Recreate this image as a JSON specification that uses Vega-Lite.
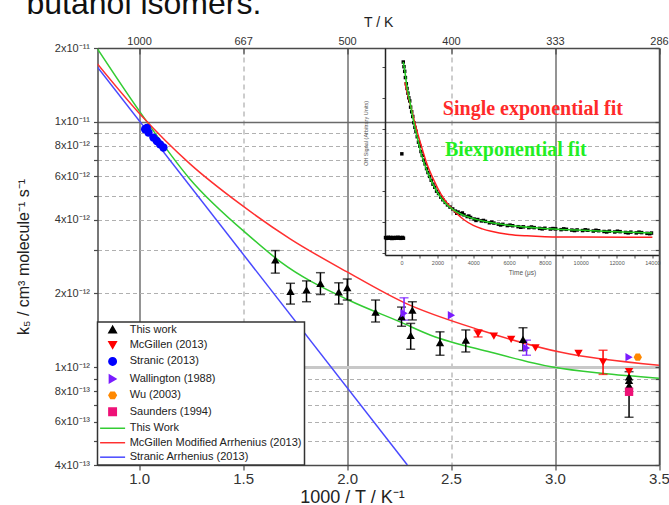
{
"$schema": "https://vega.github.io/schema/vega-lite/v6.json",
"width": 561.5,
"height": 417,
"autosize": {"type": "none"},
"padding": {"left": 97.5, "top": 48, "right": 10, "bottom": 40},
"background": "white",
"title": {"text": "butanol isomers.", "anchor": "start", "frame": "group", "fontSize": 32, "fontWeight": "normal", "font": "Liberation Sans", "color": "#111", "dx": -71, "dy": 31, "offset": 0, "baseline": "alphabetic"},
"config": {
  "font": "Liberation Sans",
  "view": {"stroke": null},
  "axis": {"labelColor": "#333", "titleColor": "#222", "titleFontWeight": "normal", "domainColor": "#4a4a4a", "domainWidth": 1.5, "tickColor": "#4a4a4a", "tickWidth": 1.2, "labelFlush": false, "labelOverlap": false, "grid": false},
  "legend": {"orient": "bottom-left", "offset": 0, "padding": 2, "strokeColor": "#333", "strokeWidth": 1.5, "fillColor": "white", "labelFontSize": 11, "labelColor": "#222", "labelLimit": 260, "symbolSize": 60, "symbolOffset": 7.6, "labelOffset": 11.6, "rowPadding": 2.46, "symbolStrokeWidth": 1.5}
},
"datasets": {
  "pts": [
    {"series": "This work", "x": 1.655, "y": 2.74e-12, "lo": 2.42e-12, "hi": 2.99e-12},
    {"series": "This work", "x": 1.728, "y": 2.04e-12, "lo": 1.81e-12, "hi": 2.20e-12},
    {"series": "This work", "x": 1.805, "y": 2.07e-12, "lo": 1.85e-12, "hi": 2.25e-12},
    {"series": "This work", "x": 1.872, "y": 2.20e-12, "lo": 1.98e-12, "hi": 2.43e-12},
    {"series": "This work", "x": 1.960, "y": 2.03e-12, "lo": 1.81e-12, "hi": 2.21e-12},
    {"series": "This work", "x": 2.001, "y": 2.11e-12, "lo": 1.88e-12, "hi": 2.29e-12},
    {"series": "This work", "x": 2.137, "y": 1.68e-12, "lo": 1.53e-12, "hi": 1.88e-12},
    {"series": "This work", "x": 2.262, "y": 1.61e-12, "lo": 1.47e-12, "hi": 1.76e-12},
    {"series": "This work", "x": 2.314, "y": 1.71e-12, "lo": 1.56e-12, "hi": 1.85e-12},
    {"series": "This work", "x": 2.306, "y": 1.35e-12, "lo": 1.185e-12, "hi": 1.51e-12},
    {"series": "This work", "x": 2.447, "y": 1.26e-12, "lo": 1.12e-12, "hi": 1.395e-12},
    {"series": "This work", "x": 2.571, "y": 1.29e-12, "lo": 1.155e-12, "hi": 1.42e-12},
    {"series": "This work", "x": 2.846, "y": 1.30e-12, "lo": 1.17e-12, "hi": 1.45e-12},
    {"series": "This work", "x": 3.356, "y": 8.85e-13, "lo": 6.26e-13, "hi": 9.6e-13},
    {"series": "This work", "x": 3.356, "y": 8.45e-13},
    {"series": "This work", "x": 3.356, "y": 9.15e-13},
    {"series": "McGillen (2013)", "x": 2.630, "y": 1.37e-12, "lo": 1.33e-12, "hi": 1.42e-12},
    {"series": "McGillen (2013)", "x": 2.706, "y": 1.34e-12},
    {"series": "McGillen (2013)", "x": 2.789, "y": 1.30e-12},
    {"series": "McGillen (2013)", "x": 2.906, "y": 1.20e-12},
    {"series": "McGillen (2013)", "x": 3.113, "y": 1.14e-12},
    {"series": "McGillen (2013)", "x": 3.231, "y": 1.05e-12, "lo": 9.36e-13, "hi": 1.174e-12},
    {"series": "McGillen (2013)", "x": 3.356, "y": 9.6e-13},
    {"series": "Stranic (2013)", "x": 1.029, "y": 9.33e-12},
    {"series": "Stranic (2013)", "x": 1.037, "y": 9.45e-12},
    {"series": "Stranic (2013)", "x": 1.045, "y": 9.05e-12},
    {"series": "Stranic (2013)", "x": 1.069, "y": 8.63e-12},
    {"series": "Stranic (2013)", "x": 1.085, "y": 8.36e-12},
    {"series": "Stranic (2013)", "x": 1.101, "y": 8.10e-12},
    {"series": "Stranic (2013)", "x": 1.117, "y": 7.86e-12},
    {"series": "Wallington (1988)", "x": 2.274, "y": 1.66e-12, "lo": 1.557e-12, "hi": 1.92e-12},
    {"series": "Wallington (1988)", "x": 2.502, "y": 1.63e-12},
    {"series": "Wallington (1988)", "x": 2.863, "y": 1.20e-12, "lo": 1.12e-12, "hi": 1.29e-12},
    {"series": "Wallington (1988)", "x": 3.356, "y": 1.10e-12},
    {"series": "Wu (2003)", "x": 3.398, "y": 1.10e-12},
    {"series": "Saunders (1994)", "x": 3.356, "y": 7.95e-13}
  ],
  "fits": [
    {"series": "This Work", "x": 0.8, "y": 1.984e-11},
    {"series": "This Work", "x": 1.005, "y": 1.096e-11},
    {"series": "This Work", "x": 1.246, "y": 5.83e-12},
    {"series": "This Work", "x": 1.535, "y": 3.40e-12},
    {"series": "This Work", "x": 1.680, "y": 2.69e-12},
    {"series": "This Work", "x": 2.007, "y": 1.88e-12},
    {"series": "This Work", "x": 2.258, "y": 1.528e-12},
    {"series": "This Work", "x": 2.402, "y": 1.352e-12},
    {"series": "This Work", "x": 2.692, "y": 1.152e-12},
    {"series": "This Work", "x": 2.995, "y": 1.0e-12},
    {"series": "This Work", "x": 3.222, "y": 9.45e-13},
    {"series": "This Work", "x": 3.5, "y": 9.03e-13},
    {"series": "McGillen Modified Arrhenius (2013)", "x": 0.8, "y": 1.722e-11},
    {"series": "McGillen Modified Arrhenius (2013)", "x": 1.005, "y": 1.074e-11},
    {"series": "McGillen Modified Arrhenius (2013)", "x": 1.246, "y": 6.73e-12},
    {"series": "McGillen Modified Arrhenius (2013)", "x": 1.487, "y": 4.62e-12},
    {"series": "McGillen Modified Arrhenius (2013)", "x": 1.728, "y": 3.33e-12},
    {"series": "McGillen Modified Arrhenius (2013)", "x": 2.007, "y": 2.43e-12},
    {"series": "McGillen Modified Arrhenius (2013)", "x": 2.272, "y": 1.84e-12},
    {"series": "McGillen Modified Arrhenius (2013)", "x": 2.643, "y": 1.416e-12},
    {"series": "McGillen Modified Arrhenius (2013)", "x": 3.029, "y": 1.151e-12},
    {"series": "McGillen Modified Arrhenius (2013)", "x": 3.5, "y": 1.019e-12},
    {"series": "Stranic Arrhenius (2013)", "x": 0.8, "y": 1.67e-11},
    {"series": "Stranic Arrhenius (2013)", "x": 2.29, "y": 4.0e-13}
  ],
  "decay": [
    {"t": -900, "s": 0.002}, {"t": -850, "s": -0.003}, {"t": -800, "s": 0.001}, {"t": -750, "s": 0.004},
    {"t": -700, "s": -0.002}, {"t": -650, "s": 0.0}, {"t": -600, "s": 0.003}, {"t": -550, "s": -0.004},
    {"t": -500, "s": 0.002}, {"t": -450, "s": 0.0}, {"t": -400, "s": -0.003}, {"t": -350, "s": 0.003},
    {"t": -300, "s": 0.001}, {"t": -250, "s": -0.002}, {"t": -200, "s": 0.004}, {"t": -150, "s": -0.001},
    {"t": -100, "s": 0.002}, {"t": -50, "s": -0.003}, {"t": 0, "s": 0.001}, {"t": 50, "s": 0.003},
    {"t": 100, "s": -0.002}, {"t": 10, "s": 0.54},
    {"t": 90, "s": 1.13}, {"t": 130, "s": 1.10}, {"t": 170, "s": 1.07}, {"t": 210, "s": 1.03},
    {"t": 260, "s": 0.99}, {"t": 300, "s": 0.96}, {"t": 350, "s": 0.93}, {"t": 400, "s": 0.90},
    {"t": 450, "s": 0.88}, {"t": 500, "s": 0.84}, {"t": 560, "s": 0.81}, {"t": 620, "s": 0.78},
    {"t": 680, "s": 0.74}, {"t": 740, "s": 0.71}, {"t": 800, "s": 0.685}, {"t": 870, "s": 0.65},
    {"t": 940, "s": 0.615}, {"t": 1010, "s": 0.59}, {"t": 1080, "s": 0.555}, {"t": 1150, "s": 0.53},
    {"t": 1230, "s": 0.50}, {"t": 1310, "s": 0.475}, {"t": 1390, "s": 0.445}, {"t": 1470, "s": 0.42},
    {"t": 1560, "s": 0.395}, {"t": 1650, "s": 0.37}, {"t": 1750, "s": 0.345}, {"t": 1850, "s": 0.325},
    {"t": 1950, "s": 0.30}, {"t": 2060, "s": 0.285}, {"t": 2180, "s": 0.262}, {"t": 2300, "s": 0.245},
    {"t": 2430, "s": 0.228}, {"t": 2560, "s": 0.212}, {"t": 2700, "s": 0.198}, {"t": 2850, "s": 0.186},
    {"t": 3000, "s": 0.172}, {"t": 3150, "s": 0.166}, {"t": 3300, "s": 0.155}, {"t": 3480, "s": 0.148},
    {"t": 3660, "s": 0.137}, {"t": 3850, "s": 0.131}, {"t": 4050, "s": 0.121}, {"t": 4250, "s": 0.118},
    {"t": 4450, "s": 0.109}, {"t": 4680, "s": 0.106}, {"t": 4900, "s": 0.097}, {"t": 5150, "s": 0.095},
    {"t": 5400, "s": 0.088}, {"t": 5650, "s": 0.087}, {"t": 5900, "s": 0.079}, {"t": 6200, "s": 0.078},
    {"t": 6500, "s": 0.072}, {"t": 6800, "s": 0.071}, {"t": 7100, "s": 0.066}, {"t": 7400, "s": 0.066},
    {"t": 7700, "s": 0.061}, {"t": 8000, "s": 0.062}, {"t": 8300, "s": 0.057}, {"t": 8600, "s": 0.058},
    {"t": 8900, "s": 0.053}, {"t": 9200, "s": 0.055}, {"t": 9500, "s": 0.050}, {"t": 9800, "s": 0.051},
    {"t": 10100, "s": 0.047}, {"t": 10400, "s": 0.049}, {"t": 10700, "s": 0.044}, {"t": 11000, "s": 0.046},
    {"t": 11300, "s": 0.041}, {"t": 11600, "s": 0.043}, {"t": 11900, "s": 0.038}, {"t": 12200, "s": 0.040},
    {"t": 12500, "s": 0.035}, {"t": 12800, "s": 0.037}, {"t": 13100, "s": 0.032}, {"t": 13400, "s": 0.034},
    {"t": 13700, "s": 0.029}, {"t": 13950, "s": 0.031},
    {"t": 3075, "s": 0.158}, {"t": 3390, "s": 0.16}, {"t": 3750, "s": 0.14}, {"t": 4150, "s": 0.112},
    {"t": 4565, "s": 0.112}, {"t": 5025, "s": 0.101}, {"t": 5525, "s": 0.083}, {"t": 6050, "s": 0.082},
    {"t": 6650, "s": 0.068}, {"t": 7250, "s": 0.07}, {"t": 7850, "s": 0.058}, {"t": 8450, "s": 0.06},
    {"t": 9050, "s": 0.058}, {"t": 9650, "s": 0.047}, {"t": 10250, "s": 0.052}, {"t": 10850, "s": 0.049},
    {"t": 11450, "s": 0.038}, {"t": 12050, "s": 0.043}, {"t": 12650, "s": 0.032}, {"t": 13250, "s": 0.037},
    {"t": 13850, "s": 0.027}
  ],
  "ifits": [
    {"fit": "single", "t": 180, "s": 1.0}, {"fit": "single", "t": 300, "s": 0.94}, {"fit": "single", "t": 500, "s": 0.85},
    {"fit": "single", "t": 800, "s": 0.71}, {"fit": "single", "t": 1100, "s": 0.59}, {"fit": "single", "t": 1400, "s": 0.48},
    {"fit": "single", "t": 1800, "s": 0.37}, {"fit": "single", "t": 2200, "s": 0.28}, {"fit": "single", "t": 2600, "s": 0.215},
    {"fit": "single", "t": 3000, "s": 0.165}, {"fit": "single", "t": 3500, "s": 0.115}, {"fit": "single", "t": 4000, "s": 0.08},
    {"fit": "single", "t": 4500, "s": 0.058}, {"fit": "single", "t": 5000, "s": 0.042}, {"fit": "single", "t": 6000, "s": 0.022},
    {"fit": "single", "t": 7000, "s": 0.013}, {"fit": "single", "t": 8000, "s": 0.008}, {"fit": "single", "t": 10000, "s": 0.005},
    {"fit": "single", "t": 14000, "s": 0.004},
    {"fit": "bi", "t": 90, "s": 1.13}, {"fit": "bi", "t": 180, "s": 1.07}, {"fit": "bi", "t": 280, "s": 0.98},
    {"fit": "bi", "t": 460, "s": 0.875}, {"fit": "bi", "t": 650, "s": 0.757}, {"fit": "bi", "t": 840, "s": 0.66},
    {"fit": "bi", "t": 1120, "s": 0.53}, {"fit": "bi", "t": 1400, "s": 0.435}, {"fit": "bi", "t": 1770, "s": 0.339},
    {"fit": "bi", "t": 2140, "s": 0.266}, {"fit": "bi", "t": 2510, "s": 0.215}, {"fit": "bi", "t": 3070, "s": 0.167},
    {"fit": "bi", "t": 3820, "s": 0.13}, {"fit": "bi", "t": 4750, "s": 0.103}, {"fit": "bi", "t": 6050, "s": 0.079},
    {"fit": "bi", "t": 7900, "s": 0.061}, {"fit": "bi", "t": 9800, "s": 0.05}, {"fit": "bi", "t": 11600, "s": 0.041},
    {"fit": "bi", "t": 14000, "s": 0.031}
  ],
  "notes": [
    {"fit": "single", "t": 2300, "s": 0.83, "label": "Single exponential fit"},
    {"fit": "bi", "t": 2420, "s": 0.565, "label": "Biexponential fit"}
  ]
},
"layer": [
  {
    "layer": [
      {
        "data": {"name": "fits"},
        "mark": {"type": "line", "strokeWidth": 1.5, "clip": true, "interpolate": "monotone"},
        "encoding": {
          "x": {"field": "x", "type": "quantitative", "title": "1000 / T / K⁻¹", "scale": {"domain": [0.8, 3.5], "nice": false, "zero": false},
            "axis": {"orient": "bottom", "values": [1, 1.5, 2, 2.5, 3, 3.5], "format": ".1f", "labelFontSize": 15, "labelPadding": 1, "tickSize": 5,
              "titleFontSize": 18, "titleX": 254.5, "titleY": 37, "titleBaseline": "alphabetic", "titleAlign": "center",
              "grid": true,
              "gridColor": {"condition": {"test": "datum.value === 1.5 || datum.value === 2.5", "value": "#9a9a9a"}, "value": "#707070"},
              "gridDash": {"condition": {"test": "datum.value === 1.5 || datum.value === 2.5", "value": [5, 4]}, "value": []},
              "gridWidth": {"condition": {"test": "datum.value === 1.5 || datum.value === 2.5", "value": 1}, "value": 1.5}}},
          "y": {"field": "y", "type": "quantitative", "title": "k₅ / cm³ molecule⁻¹ s⁻¹", "scale": {"type": "log", "domain": [4e-13, 2e-11], "nice": false},
            "axis": {"orient": "left",
              "values": [2e-11, 1e-11, 9e-12, 8e-12, 7e-12, 6e-12, 5e-12, 4e-12, 3e-12, 2e-12, 1e-12, 9e-13, 8e-13, 7e-13, 6e-13, 5e-13, 4e-13],
              "labelExpr": "datum.value > 1.5e-11 ? '2x10⁻¹¹' : abs(datum.value-1e-11) < 1e-13 ? '1x10⁻¹¹' : abs(datum.value-8e-12) < 1e-13 ? '8x10⁻¹²' : abs(datum.value-6e-12) < 1e-13 ? '6x10⁻¹²' : abs(datum.value-4e-12) < 1e-13 ? '4x10⁻¹²' : abs(datum.value-2e-12) < 1e-13 ? '2x10⁻¹²' : abs(datum.value-1e-12) < 1e-14 ? '1x10⁻¹²' : abs(datum.value-8e-13) < 1e-14 ? '8x10⁻¹³' : abs(datum.value-6e-13) < 1e-14 ? '6x10⁻¹³' : abs(datum.value-4e-13) < 1e-14 ? '4x10⁻¹³' : ''",
              "labelFontSize": 11, "labelPadding": 4, "tickSize": 4,
              "titleFontSize": 16, "titleX": -74, "titleY": 208.5, "titleAlign": "center", "titleBaseline": "middle", "titleAngle": -90,
              "grid": true,
              "gridColor": {"condition": [{"test": "abs(datum.value-1e-11) < 1e-13", "value": "#6a6a6a"}, {"test": "abs(datum.value-1e-12) < 1e-14", "value": "#c8c8c8"}], "value": "#b0b0b0"},
              "gridWidth": {"condition": [{"test": "abs(datum.value-1e-11) < 1e-13", "value": 1.5}, {"test": "abs(datum.value-1e-12) < 1e-14", "value": 3}], "value": 1},
              "gridDash": {"condition": {"test": "abs(datum.value-1e-11) < 1e-13 || abs(datum.value-1e-12) < 1e-14", "value": []}, "value": [4, 3]}}},
          "color": {"field": "series", "type": "nominal",
            "legend": {"title": null,
              "encode": {"symbols": {"update": {
                "stroke": {"scale": "color", "field": "value"},
                "strokeWidth": {"value": 1.5},
                "fill": {"signal": "indexof(['This Work','McGillen Modified Arrhenius (2013)','Stranic Arrhenius (2013)'], datum.value) >= 0 ? 'transparent' : scale('color', datum.value)"},
                "size": {"signal": "indexof(['This Work','McGillen Modified Arrhenius (2013)','Stranic Arrhenius (2013)'], datum.value) >= 0 ? 625 : 55"}
              }}}}}
        }
      },
      {
        "data": {"name": "pts"},
        "transform": [{"filter": "isValid(datum.lo)"}],
        "mark": {"type": "errorbar", "ticks": {"size": 9}, "thickness": 1.5},
        "encoding": {
          "x": {"field": "x", "type": "quantitative", "title": "1000 / T / K⁻¹", "scale": {"domain": [0.8, 3.5], "nice": false, "zero": false}},
          "y": {"field": "lo", "type": "quantitative", "title": "k₅ / cm³ molecule⁻¹ s⁻¹", "scale": {"type": "log", "domain": [4e-13, 2e-11], "nice": false}},
          "y2": {"field": "hi"},
          "color": {"field": "series", "type": "nominal",
            "legend": {"title": null,
              "encode": {"symbols": {"update": {
                "stroke": {"scale": "color", "field": "value"},
                "strokeWidth": {"value": 1.5},
                "fill": {"signal": "indexof(['This Work','McGillen Modified Arrhenius (2013)','Stranic Arrhenius (2013)'], datum.value) >= 0 ? 'transparent' : scale('color', datum.value)"},
                "size": {"signal": "indexof(['This Work','McGillen Modified Arrhenius (2013)','Stranic Arrhenius (2013)'], datum.value) >= 0 ? 625 : 55"}
              }}}}}
        }
      },
      {
        "data": {"name": "pts"},
        "mark": {"type": "point", "filled": true, "opacity": 1, "size": 70},
        "encoding": {
          "x": {"field": "x", "type": "quantitative", "title": "1000 / T / K⁻¹", "scale": {"domain": [0.8, 3.5], "nice": false, "zero": false}},
          "y": {"field": "y", "type": "quantitative", "title": "k₅ / cm³ molecule⁻¹ s⁻¹", "scale": {"type": "log", "domain": [4e-13, 2e-11], "nice": false}},
          "color": {"field": "series", "type": "nominal",
            "scale": {"domain": ["This work", "McGillen (2013)", "Stranic (2013)", "Wallington (1988)", "Wu (2003)", "Saunders (1994)", "This Work", "McGillen Modified Arrhenius (2013)", "Stranic Arrhenius (2013)"],
                      "range": ["#000000", "#ff0000", "#0000ff", "#7a1cff", "#ff8800", "#ee1177", "#33cc33", "#ff3030", "#4848ff"]},
            "legend": {"title": null,
              "encode": {"symbols": {"update": {
                "stroke": {"scale": "color", "field": "value"},
                "strokeWidth": {"value": 1.5},
                "fill": {"signal": "indexof(['This Work','McGillen Modified Arrhenius (2013)','Stranic Arrhenius (2013)'], datum.value) >= 0 ? 'transparent' : scale('color', datum.value)"},
                "size": {"signal": "indexof(['This Work','McGillen Modified Arrhenius (2013)','Stranic Arrhenius (2013)'], datum.value) >= 0 ? 625 : 55"}
              }}}}},
          "shape": {"field": "series", "type": "nominal",
            "scale": {"domain": ["This work", "McGillen (2013)", "Stranic (2013)", "Wallington (1988)", "Wu (2003)", "Saunders (1994)", "This Work", "McGillen Modified Arrhenius (2013)", "Stranic Arrhenius (2013)"],
                      "range": ["triangle-up", "triangle-down", "circle", "triangle-right", "M-1,0L-0.5,-0.866L0.5,-0.866L1,0L0.5,0.866L-0.5,0.866Z", "square", "stroke", "stroke", "stroke"]},
            "legend": {"title": null,
              "encode": {"symbols": {"update": {
                "stroke": {"scale": "color", "field": "value"},
                "strokeWidth": {"value": 1.5},
                "fill": {"signal": "indexof(['This Work','McGillen Modified Arrhenius (2013)','Stranic Arrhenius (2013)'], datum.value) >= 0 ? 'transparent' : scale('color', datum.value)"},
                "size": {"signal": "indexof(['This Work','McGillen Modified Arrhenius (2013)','Stranic Arrhenius (2013)'], datum.value) >= 0 ? 625 : 55"}
              }}}}}
        }
      }
    ]
  },
  {
    "data": {"values": [{"x": 1}]},
    "mark": {"type": "rule", "opacity": 0},
    "encoding": {
      "x": {"field": "x", "type": "quantitative", "scale": {"domain": [0.8, 3.5], "nice": false, "zero": false},
        "axis": {"orient": "top", "values": [1, 1.5, 2, 2.5, 3, 3.5], "labelExpr": "format(1000/datum.value, '.0f')", "labelFontSize": 11, "labelPadding": 8, "tickSize": -6, "title": "T / K", "titleFontSize": 14, "titlePadding": 6}}
    }
  },
  {
    "data": {"values": [{"y": 1e-12}]},
    "mark": {"type": "rule", "opacity": 0},
    "encoding": {
      "y": {"field": "y", "type": "quantitative", "scale": {"type": "log", "domain": [4e-13, 2e-11], "nice": false},
        "axis": {"orient": "right", "values": [2e-11, 1e-11, 9e-12, 8e-12, 7e-12, 6e-12, 5e-12, 4e-12, 3e-12, 2e-12, 1e-12, 9e-13, 8e-13, 7e-13, 6e-13, 5e-13, 4e-13], "labels": false, "tickSize": -4, "title": null}}
    }
  },
  {
    "layer": [
      {
        "data": {"name": "decay"},
        "mark": {"type": "point", "shape": "square", "filled": true, "size": 12, "opacity": 1, "color": "#000000"},
        "encoding": {
          "x": {"field": "t", "type": "quantitative", "title": "Time (μs)", "scale": {"domain": [-930, 14370], "range": [287.5, 561.5], "nice": false, "zero": false},
            "axis": {"orient": "bottom", "offset": -210, "values": [0, 1000, 2000, 3000, 4000, 5000, 6000, 7000, 8000, 9000, 10000, 11000, 12000, 13000, 14000],
              "labelExpr": "datum.value % 2000 === 0 ? format(datum.value, 'd') : ''", "labelFontSize": 5.5, "labelColor": "#555", "labelPadding": 2, "tickSize": 3, "tickWidth": 1,
              "domainColor": "#222", "titleFontSize": 6.5, "titleColor": "#555", "titlePadding": 4}},
          "y": {"field": "s", "type": "quantitative", "title": "OH Signal (Arbitrary Units)", "scale": {"domain": [-0.11, 1.22], "range": [207, 0], "nice": false, "zero": false},
            "axis": {"orient": "left", "offset": -287.5, "values": [-0.1, 0, 0.1, 0.2, 0.3, 0.4, 0.5, 0.6, 0.7, 0.8, 0.9, 1.0, 1.1, 1.2],
              "labelExpr": "abs(round(datum.value*10) % 2) < 0.5 ? format(datum.value, '.1f') : ''", "labelFontSize": 5.5, "labelColor": "#555", "labelPadding": 2, "tickSize": 3, "tickWidth": 1,
              "domainColor": "#222", "titleFontSize": 5.5, "titleColor": "#555", "titleX": -20, "titleY": 85, "titleAlign": "center", "titleBaseline": "middle", "titleAngle": -90}}
        }
      },
      {
        "data": {"name": "ifits"},
        "transform": [{"filter": "datum.fit === 'single'"}],
        "mark": {"type": "line", "strokeWidth": 1.5, "color": "#ff2020", "interpolate": "monotone"},
        "encoding": {
          "x": {"field": "t", "type": "quantitative", "title": "Time (μs)", "scale": {"domain": [-930, 14370], "range": [287.5, 561.5], "nice": false, "zero": false}},
          "y": {"field": "s", "type": "quantitative", "title": "OH Signal (Arbitrary Units)", "scale": {"domain": [-0.11, 1.22], "range": [207, 0], "nice": false, "zero": false}}
        }
      },
      {
        "data": {"name": "ifits"},
        "transform": [{"filter": "datum.fit === 'bi'"}],
        "mark": {"type": "line", "strokeWidth": 1.5, "color": "#22cc22", "interpolate": "monotone"},
        "encoding": {
          "x": {"field": "t", "type": "quantitative", "title": "Time (μs)", "scale": {"domain": [-930, 14370], "range": [287.5, 561.5], "nice": false, "zero": false}},
          "y": {"field": "s", "type": "quantitative", "title": "OH Signal (Arbitrary Units)", "scale": {"domain": [-0.11, 1.22], "range": [207, 0], "nice": false, "zero": false}}
        }
      },
      {
        "data": {"name": "notes"},
        "mark": {"type": "text", "align": "left", "baseline": "middle", "font": "Liberation Serif", "fontWeight": "bold", "fontSize": 20},
        "encoding": {
          "x": {"field": "t", "type": "quantitative", "title": "Time (μs)", "scale": {"domain": [-930, 14370], "range": [287.5, 561.5], "nice": false, "zero": false}},
          "y": {"field": "s", "type": "quantitative", "title": "OH Signal (Arbitrary Units)", "scale": {"domain": [-0.11, 1.22], "range": [207, 0], "nice": false, "zero": false}},
          "text": {"field": "label"},
          "color": {"condition": {"test": "datum.fit === 'single'", "value": "#ff2a2a"}, "value": "#22ee22"}
        }
      }
    ]
  }
],
"resolve": {"scale": {"x": "independent", "y": "independent"}, "axis": {"x": "independent", "y": "independent"}}
}
